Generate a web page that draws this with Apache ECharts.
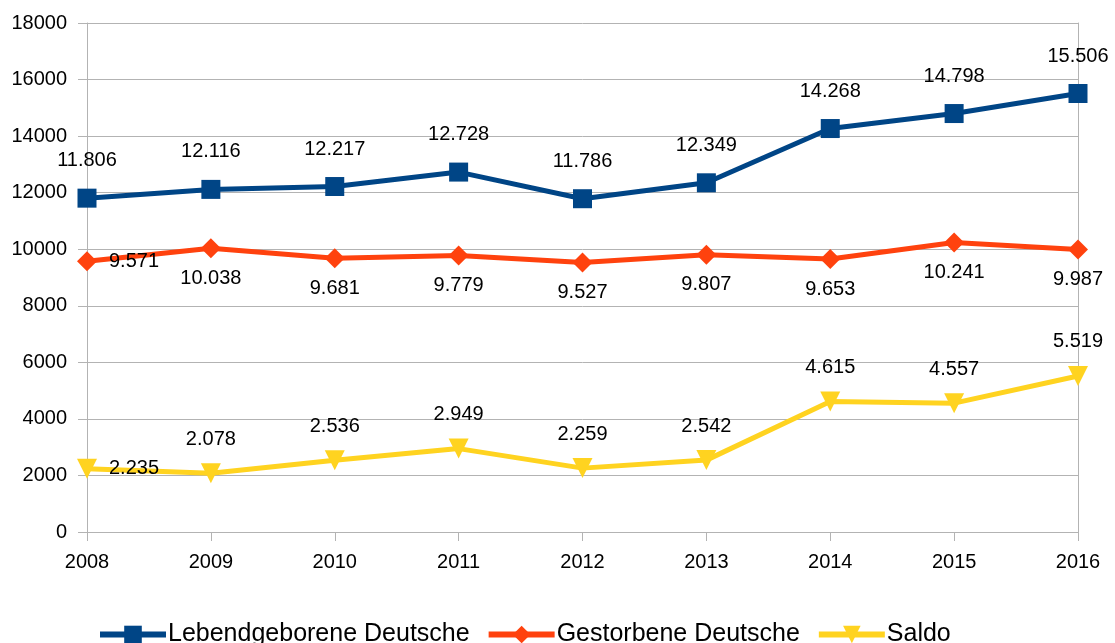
<!DOCTYPE html>
<html lang="de">
<head>
    <meta charset="UTF-8">
    <title>Geburten und Sterbefälle</title>
    <script src="https://cdn.jsdelivr.net/npm/echarts@6/dist/echarts.min.js"></script>
    <style>
        html, body { margin: 0; padding: 0; background: #fff; }
    </style>
</head>
<body>
    <div id="main" style="width: 1115px; height: 643px;"></div>
    <script>
        var years = ['2008', '2009', '2010', '2011', '2012', '2013', '2014', '2015', '2016'];
        var lebendgeborene = [11806, 12116, 12217, 12728, 11786, 12349, 14268, 14798, 15506];
        var gestorbene = [9571, 10038, 9681, 9779, 9527, 9807, 9653, 10241, 9987];
        var saldo = [2235, 2078, 2536, 2949, 2259, 2542, 4615, 4557, 5519];

        function fmt(v) {
            return String(v).replace(/\B(?=(\d{3})+(?!\d))/g, '.');
        }

        // first point of the lower two series has its label on the right
        function withFirstRight(arr) {
            return arr.map(function (v, i) {
                if (i === 0) {
                    return { value: v, label: { position: 'right', distance: 12 } };
                }
                return v;
            });
        }

        var labelFont = { fontFamily: 'Liberation Sans', fontSize: 20, color: '#000' };

        var myChart = echarts.init(document.getElementById('main'));
        myChart.setOption({
            animation: false,
            grid: { left: 87, right: 37, top: 23, bottom: 111 },
            legend: {
                top: 617,
                left: 92,
                itemWidth: 66,
                itemHeight: 22,
                itemGap: 16,
                lineStyle: { width: 6 },
                textStyle: { fontFamily: 'Liberation Sans', fontSize: 25, color: '#000', padding: [0, 0, 0, -3] }
            },
            xAxis: {
                type: 'category',
                data: years,
                boundaryGap: false,
                axisLine: { lineStyle: { color: '#b3b3b3', width: 1 } },
                axisTick: { show: true, length: 9, lineStyle: { color: '#b3b3b3' } },
                axisLabel: { fontFamily: 'Liberation Sans', fontSize: 20, color: '#000', margin: 20 },
                splitLine: { show: false }
            },
            yAxis: [{
                type: 'value',
                min: 0,
                max: 18000,
                interval: 2000,
                axisLine: { show: true, lineStyle: { color: '#b3b3b3', width: 1 } },
                axisTick: { show: true, length: 9, lineStyle: { color: '#b3b3b3' } },
                axisLabel: { fontFamily: 'Liberation Sans', fontSize: 20, color: '#000', margin: 20, formatter: function (v) { return String(v); } },
                splitLine: { lineStyle: { color: '#b3b3b3', width: 1 } }
            }, {
                type: 'value',
                position: 'right',
                min: 0,
                max: 18000,
                interval: 2000,
                axisLine: { show: true, lineStyle: { color: '#b3b3b3', width: 1 } },
                axisTick: { show: false },
                axisLabel: { show: false },
                splitLine: { show: false }
            }],
            series: [{
                name: 'Lebendgeborene Deutsche',
                type: 'line',
                data: lebendgeborene,
                symbol: 'rect',
                symbolSize: 19,
                lineStyle: { width: 5, color: '#004586' },
                itemStyle: { color: '#004586' },
                label: Object.assign({ show: true, position: 'top', distance: 18, formatter: function (p) { return fmt(p.value); } }, labelFont)
            }, {
                name: 'Gestorbene Deutsche',
                type: 'line',
                data: withFirstRight(gestorbene),
                symbol: 'diamond',
                symbolSize: 20,
                lineStyle: { width: 5, color: '#ff420e' },
                itemStyle: { color: '#ff420e' },
                label: Object.assign({ show: true, position: 'bottom', distance: 10, formatter: function (p) { return fmt(p.value); } }, labelFont)
            }, {
                name: 'Saldo',
                type: 'line',
                data: withFirstRight(saldo),
                symbol: 'triangle',
                symbolRotate: 180,
                symbolSize: 20,
                lineStyle: { width: 5, color: '#ffd320' },
                itemStyle: { color: '#ffd320' },
                label: Object.assign({ show: true, position: 'top', distance: 14, formatter: function (p) { return fmt(p.value); } }, labelFont)
            }]
        });
    </script>
</body>
</html>
